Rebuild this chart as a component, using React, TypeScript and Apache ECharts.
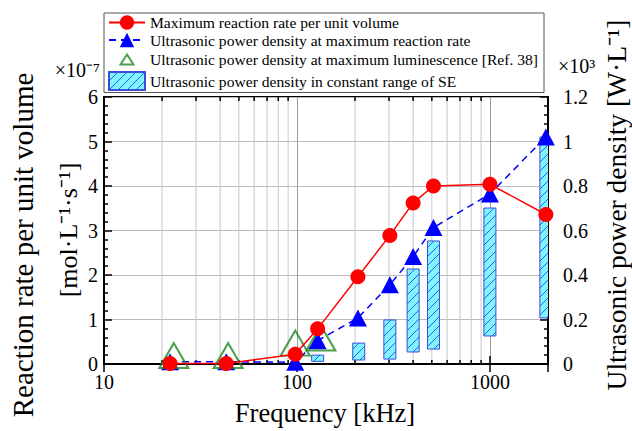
import React, { useEffect, useRef } from "react";
import * as echarts from "echarts";

// Frequencies [kHz]
const freqs = [22, 43, 98, 128, 207, 303, 400, 510, 1000, 1950];
// Maximum reaction rate per unit volume [×1e-7 mol·L⁻¹·s⁻¹]
const reactionRate = [0.01, 0.01, 0.22, 0.79, 1.96, 2.89, 3.62, 4.0, 4.04, 3.36];
// Ultrasonic power density at maximum reaction rate [W·L⁻¹]
const powerAtMaxRate = [10, 10, 8, 105, 207, 356, 483, 613, 764, 1020];
// Ultrasonic power density at maximum luminescence [W·L⁻¹]
const lumFreqs = [23, 44, 98, 133];
const powerAtMaxLum = [38, 38, 94, 117];
// Ultrasonic power density in constant range of SE [W·L⁻¹]
const rangeFreqs = [128, 209, 303, 400, 510, 1000, 1950];
const rangeLow = [12, 18, 22, 54, 67, 126, 207];
const rangeHigh = [40, 94, 198, 427, 553, 701, 1020];
// minor log grid positions
const minorFreqs = [20, 30, 40, 50, 60, 70, 80, 90, 200, 300, 400, 500, 600, 700, 800, 900];
const majorFreqLabels = [10, 100, 1000];

const FONT = "'Liberation Serif', 'Times New Roman', Times, serif";

function makeHatch() {
  const c = document.createElement("canvas");
  c.width = 9;
  c.height = 9;
  const ctx = c.getContext("2d")!;
  ctx.fillStyle = "#80f4ff";
  ctx.fillRect(0, 0, 9, 9);
  ctx.strokeStyle = "#2e5bff";
  ctx.lineWidth = 1;
  ctx.beginPath();
  ctx.moveTo(-1, 10);
  ctx.lineTo(10, -1);
  ctx.stroke();
  return c;
}

export default function App() {
  const ref = useRef<HTMLDivElement>(null);
  useEffect(() => {
    const chart = echarts.init(ref.current!, null, { renderer: "svg" });
    const hatch = { image: makeHatch(), repeat: "repeat" } as any;

    const redData = freqs.map((f, i) => [f, reactionRate[i]]);
    const blueData = freqs.map((f, i) => [f, powerAtMaxRate[i]]);
    const greenData = lumFreqs.map((f, i) => [f, powerAtMaxLum[i]]);
    const rangeData = rangeFreqs.map((f, i) => [f, rangeLow[i], rangeHigh[i]]);
    const minorData = minorFreqs.map((f) => [f, 0]);

    const axisText = { fontFamily: FONT, fontSize: 20, color: "#000" };

    const option: any = {
      animation: false,
      backgroundColor: "#fff",
      textStyle: { fontFamily: FONT },
      grid: {
        left: 104,
        right: 84,
        top: 97,
        bottom: 67,
        show: true,
        borderColor: "#000",
        borderWidth: 2,
        backgroundColor: "transparent",
      },
      legend: {
        orient: "vertical",
        left: 104,
        top: 13,
        itemWidth: 36,
        itemHeight: 18,
        itemGap: 1.5,
        padding: [1.5, 6, 1.5, 4],
        borderColor: "#555",
        borderWidth: 1,
        backgroundColor: "#fff",
        selectedMode: false,
        textStyle: { fontFamily: FONT, fontSize: 15.6, color: "#000" },
        data: [
          { name: "Maximum reaction rate per unit volume" },
          { name: "Ultrasonic power density at maximum reaction rate" },
          {
            name: "Ultrasonic power density at maximum luminescence [Ref. 38]",
            icon: "path://M0,0M36,18M18,4L24.5,14L11.5,14Z",
          },
          { name: "Ultrasonic power density in constant range of SE", icon: "rect" },
        ],
      },
      xAxis: [
        {
          type: "log",
          logBase: 10,
          min: 10,
          max: 2000,
          axisLine: { lineStyle: { color: "#000", width: 2 } },
          axisTick: { inside: true, length: 8, lineStyle: { color: "#000", width: 1.5 } },
          axisLabel: {
            ...axisText,
            margin: 8,
            showMaxLabel: false,
            formatter: (v: number) =>
              majorFreqLabels.includes(Math.round(v)) ? String(Math.round(v)) : "",
          },
          splitLine: { show: true, lineStyle: { color: "#999", width: 1 } },
        },
        {
          type: "log",
          logBase: 10,
          min: 10,
          max: 2000,
          position: "top",
          axisLine: { lineStyle: { color: "#000", width: 2 } },
          axisTick: { inside: true, length: 8, lineStyle: { color: "#000", width: 1.5 } },
          axisLabel: { show: false },
          splitLine: { show: false },
        },
      ],
      yAxis: [
        {
          type: "value",
          min: 0,
          max: 6,
          interval: 1,
          axisLine: { show: true, lineStyle: { color: "#000", width: 2 } },
          axisTick: { show: true, inside: true, length: 8, lineStyle: { color: "#000", width: 1.5 } },
          minorTick: { show: true, splitNumber: 5, length: 4, lineStyle: { color: "#000", width: 1.5 } },
          axisLabel: { ...axisText, margin: 6 },
          splitLine: { show: true, lineStyle: { color: "#bbb", width: 1 } },
        },
        {
          type: "value",
          position: "right",
          min: 0,
          max: 1200,
          interval: 200,
          axisLine: { show: true, lineStyle: { color: "#000", width: 2 } },
          axisTick: { show: true, inside: true, length: 8, lineStyle: { color: "#000", width: 1.5 } },
          minorTick: { show: true, splitNumber: 5, length: 4, lineStyle: { color: "#000", width: 1.5 } },
          axisLabel: { ...axisText, margin: 15, formatter: (v: number) => String(v / 1000) },
          splitLine: { show: false },
        },
      ],
      series: [
        {
          name: "minorGrid",
          type: "custom",
          xAxisIndex: 0,
          yAxisIndex: 0,
          silent: true,
          z: 1,
          data: minorData,
          renderItem: (params: any, api: any) => {
            const x = api.coord([api.value(0), 0])[0];
            const cs = params.coordSys;
            const top = cs.y;
            const bottom = cs.y + cs.height;
            return {
              type: "group",
              children: [
                { type: "line", shape: { x1: x, y1: top, x2: x, y2: bottom }, style: { stroke: "#c8c8c8", lineWidth: 1 } },
                { type: "line", shape: { x1: x, y1: bottom, x2: x, y2: bottom - 4 }, style: { stroke: "#000", lineWidth: 1.5 } },
                { type: "line", shape: { x1: x, y1: top, x2: x, y2: top + 4 }, style: { stroke: "#000", lineWidth: 1.5 } },
              ],
            };
          },
        },
        {
          name: "Ultrasonic power density in constant range of SE",
          type: "custom",
          xAxisIndex: 0,
          yAxisIndex: 1,
          clip: true,
          z: 2,
          itemStyle: { color: hatch, borderColor: "#3a4fd6", borderWidth: 1 },
          encode: { x: 0, y: [1, 2] },
          data: rangeData,
          renderItem: (params: any, api: any) => {
            const lo = api.coord([api.value(0), api.value(1)]);
            const hi = api.coord([api.value(0), api.value(2)]);
            const w = 12;
            return {
              type: "rect",
              shape: { x: lo[0] - w / 2, y: hi[1], width: w, height: lo[1] - hi[1] },
              style: { fill: hatch, stroke: "#3a4fd6", lineWidth: 1 },
            };
          },
        },
        {
          name: "Ultrasonic power density at maximum reaction rate",
          type: "line",
          xAxisIndex: 0,
          yAxisIndex: 1,
          z: 3,
          data: blueData,
          symbol: "triangle",
          symbolSize: [18, 17],
          lineStyle: { color: "#0000ff", width: 1.5, type: [7, 5] },
          itemStyle: { color: "#0000ff" },
        },
        {
          name: "Ultrasonic power density at maximum luminescence [Ref. 38]",
          type: "scatter",
          xAxisIndex: 0,
          yAxisIndex: 1,
          z: 4,
          data: greenData,
          symbol: "triangle",
          symbolSize: [29, 25],
          itemStyle: { color: "rgba(255,255,255,0)", borderColor: "#1e8a1e", borderWidth: 2 },
        },
        {
          name: "Maximum reaction rate per unit volume",
          type: "line",
          xAxisIndex: 0,
          yAxisIndex: 0,
          z: 5,
          data: redData,
          symbol: "circle",
          symbolSize: 15,
          lineStyle: { color: "#ff0000", width: 1.5 },
          itemStyle: { color: "#ff0000" },
        },
      ],
      graphic: [
        {
          type: "text",
          x: 100,
          y: 70,
          style: { text: "×10⁻⁷", fontFamily: FONT, fontSize: 20, fill: "#000", textAlign: "right", textVerticalAlign: "middle" },
        },
        {
          type: "text",
          x: 558,
          y: 66,
          style: { text: "×10³", fontFamily: FONT, fontSize: 20, fill: "#000", textAlign: "left", textVerticalAlign: "middle" },
        },
        {
          type: "text",
          x: 23,
          y: 245,
          rotation: Math.PI / 2,
          style: { text: "Reaction rate per unit volume", fontFamily: FONT, fontSize: 29, fill: "#000", textAlign: "center", textVerticalAlign: "middle" },
        },
        {
          type: "text",
          x: 68,
          y: 230,
          rotation: Math.PI / 2,
          style: { text: "[mol·L⁻¹·s⁻¹]", fontFamily: FONT, fontSize: 26, fill: "#000", textAlign: "center", textVerticalAlign: "middle" },
        },
        {
          type: "text",
          x: 616,
          y: 205,
          rotation: Math.PI / 2,
          style: { text: "Ultrasonic power density [W·L⁻¹]", fontFamily: FONT, fontSize: 27.5, fill: "#000", textAlign: "center", textVerticalAlign: "middle" },
        },
        {
          type: "text",
          x: 325,
          y: 413,
          style: { text: "Frequency [kHz]", fontFamily: FONT, fontSize: 26.5, fill: "#000", textAlign: "center", textVerticalAlign: "middle" },
        },
      ],
    };
    chart.setOption(option);
    return () => chart.dispose();
  }, []);
  return (
    <div
      ref={ref}
      style={{ position: "fixed", left: 0, top: 0, width: 632, height: 431, background: "#fff" }}
    />
  );
}
